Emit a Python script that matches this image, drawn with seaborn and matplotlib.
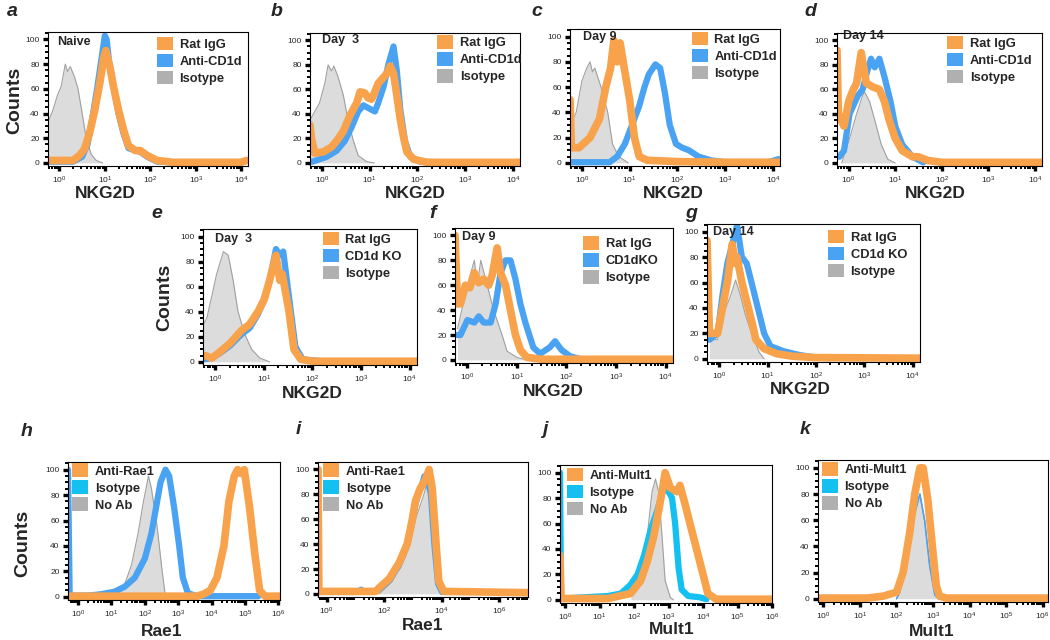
import numpy as np
import matplotlib
matplotlib.use("Agg")
import matplotlib.pyplot as plt
import seaborn as sns
from matplotlib.patches import Patch
from matplotlib.ticker import MultipleLocator, FixedLocator, NullFormatter

sns.set_style("ticks")
plt.rcParams['font.family'] = ['Liberation Sans', 'DejaVu Sans']

# ---- data: x in log10 decades, y in counts ----
a_iso_x = [-0.25, -0.15, -0.04, 0.04, 0.13, 0.18, 0.24, 0.33, 0.41, 0.48, 0.59, 0.7, 0.81, 0.95]
a_iso_y = [33, 42, 55, 62, 80, 74, 78, 70, 60, 45, 20, 7, 2, 0]
a_rat_x = [-0.25, 0.0, 0.3, 0.44, 0.55, 0.67, 0.78, 0.89, 0.98, 1.02, 1.11, 1.19, 1.3, 1.41, 1.52, 1.67, 1.78, 1.93, 2.15, 2.5, 3.5, 4.0, 4.12]
a_rat_y = [2, 2, 2, 6, 11, 25, 43, 65, 86, 91, 78, 62, 43, 27, 14, 10, 10, 6, 2, 0.5, 0.5, 0.5, 2]
a_cd1d_x = [-0.25, 0.3, 0.5, 0.62, 0.72, 0.83, 0.93, 1.0, 1.04, 1.1, 1.2, 1.3, 1.41, 1.52, 1.67, 1.78, 1.93, 2.15, 2.5]
a_cd1d_y = [1, 1, 5, 15, 35, 60, 85, 103, 100, 80, 60, 40, 24, 12, 10, 9, 5, 1, 0.5]

b_iso_x = [-0.25, -0.05, 0.06, 0.13, 0.2, 0.25, 0.34, 0.45, 0.55, 0.66, 0.76, 0.94, 1.1]
b_iso_y = [35, 49, 65, 80, 75, 79, 70, 55, 34, 18, 6, 1, 0]
b_rat_x = [-0.25, -0.22, -0.15, 0.03, 0.2, 0.31, 0.45, 0.59, 0.73, 0.8, 0.9, 0.97, 1.04, 1.11, 1.18, 1.25, 1.36, 1.43, 1.5, 1.57, 1.64, 1.71, 1.78, 1.92, 2.2, 4.15]
b_rat_y = [31, 20, 8, 9, 13, 18, 26, 39, 49, 58, 57, 53, 52, 58, 65, 68, 73, 79, 73, 55, 36, 21, 9, 3, 0.5, 0.5]
b_cd1d_x = [-0.25, -0.2, 0.1, 0.31, 0.48, 0.62, 0.76, 0.87, 1.01, 1.11, 1.18, 1.29, 1.39, 1.5, 1.57, 1.64, 1.74, 1.85, 2.06, 2.5]
b_cd1d_y = [1, 1, 5, 10, 18, 29, 42, 47, 44, 42, 49, 62, 80, 95, 75, 44, 18, 5, 1, 0.5]

c_iso_x = [-0.25, -0.12, 0.0, 0.1, 0.17, 0.22, 0.27, 0.4, 0.54, 0.64, 0.77, 0.97]
c_iso_y = [30, 40, 65, 75, 80, 72, 75, 60, 40, 15, 5, 0]
c_rat_x = [-0.25, -0.22, -0.06, 0.17, 0.37, 0.5, 0.6, 0.67, 0.74, 0.8, 0.9, 1.0, 1.1, 1.2, 1.37, 2.0, 3.0, 4.15]
c_rat_y = [50, 12, 12, 20, 35, 60, 75, 97, 80, 95, 72, 50, 20, 5, 2, 1, 0.5, 0.5]
c_cd1d_x = [-0.25, 0.58, 0.74, 0.9, 1.1, 1.2, 1.31, 1.4, 1.54, 1.64, 1.74, 1.84, 1.97, 2.1, 2.24, 2.44, 2.7, 3.0, 3.9, 4.12]
c_cd1d_y = [0.5, 0.5, 5, 15, 35, 45, 60, 70, 78, 75, 55, 30, 15, 12, 10, 5, 2, 0.5, 0.5, 3]

d_iso_x = [-0.15, 0.02, 0.17, 0.3, 0.34, 0.45, 0.56, 0.7, 0.84, 1.0]
d_iso_y = [0, 20, 40, 55, 58, 50, 35, 15, 3, 0]
d_rat_x = [-0.25, -0.22, -0.1, 0.0, 0.1, 0.17, 0.27, 0.38, 0.52, 0.66, 0.77, 0.87, 1.0, 1.15, 1.37, 1.5, 1.7, 2.0, 4.15]
d_rat_y = [92, 40, 30, 50, 60, 65, 90, 65, 62, 60, 50, 35, 20, 10, 5, 5, 2, 0.5, 0.5]
d_cd1d_x = [-0.2, -0.1, 0.02, 0.2, 0.3, 0.4, 0.48, 0.56, 0.66, 0.77, 0.9, 1.0, 1.15, 1.37, 1.6]
d_cd1d_y = [5, 10, 40, 55, 60, 75, 85, 78, 85, 70, 50, 30, 15, 5, 0.5]

e_iso_x = [-0.24, -0.17, 0.03, 0.17, 0.27, 0.37, 0.47, 0.61, 0.75, 0.92, 1.12]
e_iso_y = [30, 35, 70, 88, 85, 65, 40, 22, 10, 3, 0]
e_rat_x = [-0.24, -0.2, -0.07, 0.1, 0.31, 0.54, 0.71, 0.88, 1.01, 1.12, 1.25, 1.33, 1.38, 1.52, 1.62, 1.76, 2.0, 4.15]
e_rat_y = [5, 5, 3, 8, 15, 25, 30, 40, 50, 65, 85, 65, 70, 40, 10, 2, 0.5, 0.5]
e_ko_x = [-0.24, -0.07, 0.1, 0.31, 0.54, 0.71, 0.88, 1.01, 1.12, 1.25, 1.33, 1.4, 1.54, 1.65, 1.8, 2.2]
e_ko_y = [2, 3, 7, 13, 22, 27, 38, 50, 65, 90, 85, 88, 45, 12, 2, 0.5]

f_iso_x = [-0.2, 0.0, 0.14, 0.2, 0.27, 0.4, 0.53, 0.7, 0.8, 1.0, 1.2]
f_iso_y = [25, 60, 80, 60, 80, 60, 40, 20, 7, 2, 0]
f_rat_x = [-0.25, -0.2, -0.14, -0.04, 0.05, 0.14, 0.23, 0.33, 0.43, 0.5, 0.6, 0.67, 0.77, 0.87, 0.97, 1.07, 1.2, 1.5, 4.15]
f_rat_y = [100, 45, 45, 60, 58, 70, 62, 65, 60, 68, 90, 70, 60, 40, 20, 8, 2, 0.5, 0.5]
f_ko_x = [-0.2, -0.14, 0.0, 0.14, 0.23, 0.33, 0.47, 0.57, 0.67, 0.77, 0.87, 0.97, 1.07, 1.17, 1.33, 1.47, 1.66, 1.77, 1.9, 2.07, 2.3]
f_ko_y = [20, 20, 32, 30, 35, 30, 30, 45, 70, 80, 80, 65, 45, 30, 10, 5, 10, 15, 8, 3, 0.5]

g_iso_x = [-0.2, -0.03, 0.07, 0.14, 0.24, 0.34, 0.44, 0.54, 0.67, 0.83, 0.93]
g_iso_y = [15, 15, 45, 40, 50, 62, 50, 35, 20, 5, 0]
g_rat_x = [-0.25, -0.2, -0.03, 0.07, 0.17, 0.24, 0.27, 0.34, 0.37, 0.47, 0.57, 0.67, 0.76, 0.93, 1.19, 1.52, 1.99, 4.15]
g_rat_y = [93, 20, 20, 40, 60, 80, 90, 75, 80, 60, 45, 30, 15, 8, 4, 2, 1, 0.5]
g_ko_x = [-0.2, -0.03, 0.07, 0.17, 0.27, 0.37, 0.47, 0.57, 0.67, 0.8, 0.93, 1.06, 1.33, 1.66, 1.99, 2.3]
g_ko_y = [15, 20, 50, 75, 90, 105, 80, 75, 60, 40, 20, 10, 6, 3, 1, 0.5]

h_noab_x = [1.09, 1.4, 1.6, 1.8, 1.96, 2.11, 2.2, 2.37, 2.52, 2.62]
h_noab_y = [2, 10, 25, 50, 75, 95, 85, 55, 20, 0]
h_iso_x = [-0.3, -0.25, 0.3, 0.68, 1.09, 1.4, 1.7, 2.0, 2.2, 2.37, 2.47, 2.62, 2.73, 2.88, 3.03, 3.14, 3.29, 3.55, 5.4]
h_iso_y = [100, 1, 1, 2, 4, 8, 15, 30, 50, 75, 90, 100, 95, 70, 40, 15, 3, 0.5, 0.5]
h_rae_x = [-0.3, 3.55, 3.75, 3.96, 4.16, 4.37, 4.52, 4.68, 4.78, 4.88, 4.98, 5.14, 5.29, 5.44, 5.6, 6.05]
h_rae_y = [0.5, 0.5, 2, 5, 15, 40, 75, 95, 100, 97, 100, 70, 35, 5, 0.5, 0.5]

i_noab_x = [1.83, 2.29, 2.75, 3.09, 3.38, 3.5, 3.67, 3.84, 4.02]
i_noab_y = [0, 10, 30, 60, 80, 90, 60, 10, 0]
i_iso_x = [-0.3, 1.0, 1.2, 1.4, 1.83, 2.17, 2.52, 2.8, 2.98, 3.09, 3.26, 3.38, 3.5, 3.6, 3.72, 3.85, 4.0]
i_iso_y = [1, 1, 4, 1, 3, 10, 22, 38, 55, 70, 85, 95, 90, 80, 40, 8, 1]
i_rae_x = [-0.3, -0.27, 0.5, 1.71, 1.83, 2.17, 2.52, 2.8, 2.98, 3.09, 3.26, 3.44, 3.56, 3.67, 3.79, 3.9, 4.07, 7.0]
i_rae_y = [100, 2, 2, 2, 5, 12, 25, 40, 60, 75, 85, 92, 100, 85, 45, 10, 2, 1]

j_noab_x = [1.9, 2.19, 2.38, 2.52, 2.62, 2.71, 2.81, 2.9, 3.05, 3.14]
j_noab_y = [5, 25, 50, 85, 95, 85, 50, 15, 2, 0]
j_iso_x = [-0.15, -0.12, 0.57, 1.24, 1.62, 1.9, 2.1, 2.29, 2.48, 2.67, 2.86, 3.0, 3.1, 3.19, 3.29, 3.38, 3.57, 3.9, 4.1]
j_iso_y = [100, 1, 2, 3, 5, 12, 20, 35, 55, 70, 88, 85, 80, 60, 25, 8, 3, 2, 0.5]
j_mult_x = [-0.15, -0.12, 1.24, 1.9, 2.19, 2.38, 2.57, 2.71, 2.81, 2.9, 3.05, 3.24, 3.33, 3.48, 3.62, 3.81, 4.0, 4.14, 4.38, 6.0]
j_mult_y = [35, 1, 1, 5, 15, 30, 50, 70, 85, 100, 88, 85, 90, 75, 60, 40, 20, 5, 0.5, 0.5]

k_noab_x = [2.0, 2.09, 2.27, 2.45, 2.64, 2.77, 2.91, 3.05, 3.15]
k_noab_y = [0, 5, 30, 60, 80, 60, 25, 3, 0]
k_mult_x = [-0.15, 1.2, 1.64, 2.0, 2.18, 2.36, 2.5, 2.64, 2.73, 2.86, 3.0, 3.09, 3.18, 3.36, 6.15]
k_mult_y = [0.5, 0.5, 2, 5, 20, 50, 80, 100, 100, 75, 35, 10, 2, 0.5, 0.5]

ORANGE = '#F9A24C'
BLUE = '#4AA3F2'
CYAN = '#14C0F0'
GRAY_FILL = '#DCDCDC'
GRAY_EDGE = '#A0A0A0'
GRAY_LEG = '#B0B0B0'

W, H = 1050, 640
fig = plt.figure(figsize=(W / 100, H / 100), dpi=100)


def draw_panel(box, xlim, gray, curves, labels, leg_colors, leg_xy,
               letter, letter_xy, xlabel, xlabel_xy, note=None, note_xy=None,
               counts_xy=None, xticks=None):
    left, top, right, bottom = box
    ax = fig.add_axes([left / W, 1 - bottom / H, (right - left) / W, (bottom - top) / H])
    gx = 10 ** np.array(gray[0])
    ax.fill_between(gx, gray[1], color=GRAY_FILL, lw=0)
    sns.lineplot(x=gx, y=gray[1], ax=ax, color=GRAY_EDGE, lw=0.8,
                 estimator=None, sort=False)
    for (xs, ys), color, lw in curves:
        sns.lineplot(x=10 ** np.array(xs), y=ys, ax=ax, color=color, lw=lw,
                     estimator=None, sort=False, solid_joinstyle='round',
                     solid_capstyle='round')
    ax.set_xscale('log')
    ax.set_xlim(10 ** xlim[0], 10 ** xlim[1])
    ax.set_ylim(-2.5, 106)
    ax.yaxis.set_major_locator(MultipleLocator(20))
    ax.yaxis.set_minor_locator(MultipleLocator(5))
    if xticks is not None:
        ax.xaxis.set_major_locator(FixedLocator([10.0 ** t for t in xticks]))
    ax.xaxis.set_minor_formatter(NullFormatter())
    ax.tick_params(which='major', length=3.5, width=2.4, labelsize=6, pad=2.5, color='black')
    ax.tick_params(which='minor', length=2, width=1.4, color='black')
    for sp in ax.spines.values():
        sp.set_linewidth(0.8)
        sp.set_color('black')

    ax.set_ylabel('')
    ax.set_xlabel(xlabel, fontsize=12.5, fontweight='bold', va='center')
    ax.xaxis.set_label_coords((xlabel_xy[0] - left) / (right - left),
                              (bottom - xlabel_xy[1]) / (bottom - top))
    if counts_xy is not None:
        ax.set_ylabel('Counts', fontsize=14, fontweight='bold', va='center')
        ax.yaxis.set_label_coords((counts_xy[0] - left) / (right - left),
                                  (bottom - counts_xy[1]) / (bottom - top))

    handles = [Patch(facecolor=c, edgecolor='none') for c in leg_colors]
    ax.legend(handles, labels, loc='upper left', bbox_to_anchor=leg_xy,
              frameon=False, borderpad=0, borderaxespad=0, handlelength=1.25,
              handleheight=1.25, handletextpad=0.5, labelspacing=0.22,
              prop={'weight': 'bold', 'size': 9.3})
    if note:
        ax.text(note_xy[0], note_xy[1], note, transform=ax.transAxes,
                fontsize=9, fontweight='bold', ha='left', va='center')
    fig.text(letter_xy[0] / W, 1 - letter_xy[1] / H, letter, fontsize=14,
             fontweight='bold', style='italic', ha='center', va='center')
    return ax


nk_lim = (-0.25, 4.15)
lab_cd1d = ['Rat IgG', 'Anti-CD1d', 'Isotype']
col_top = [ORANGE, BLUE, GRAY_LEG]

draw_panel((48, 32, 248, 166), nk_lim, (a_iso_x, a_iso_y),
           [((a_cd1d_x, a_cd1d_y), BLUE, 4.5), ((a_rat_x, a_rat_y), ORANGE, 5.5)],
           lab_cd1d, col_top, (0.545, 0.965), 'a', (12, 12), 'NKG2D', (105, 194),
           'Naive', (0.045, 0.925), counts_xy=(15, 100))
draw_panel((310, 33, 520, 166), nk_lim, (b_iso_x, b_iso_y),
           [((b_cd1d_x, b_cd1d_y), BLUE, 4.5), ((b_rat_x, b_rat_y), ORANGE, 5.5)],
           lab_cd1d, col_top, (0.605, 0.985), 'b', (277, 12), 'NKG2D', (415, 194),
           'Day  3', (0.057, 0.95))
draw_panel((570, 29, 780, 166), nk_lim, (c_iso_x, c_iso_y),
           [((c_cd1d_x, c_cd1d_y), BLUE, 4.5), ((c_rat_x, c_rat_y), ORANGE, 5.5)],
           lab_cd1d, col_top, (0.58, 0.98), 'c', (537, 12), 'NKG2D', (673, 193),
           'Day 9', (0.062, 0.94))
draw_panel((837, 33, 1042, 166), nk_lim, (d_iso_x, d_iso_y),
           [((d_cd1d_x, d_cd1d_y), BLUE, 4.5), ((d_rat_x, d_rat_y), ORANGE, 5.5)],
           lab_cd1d, col_top, (0.537, 0.98), 'd', (810, 12), 'NKG2D', (935, 194),
           'Day 14', (0.03, 0.975))

draw_panel((203, 229, 417, 365), nk_lim, (e_iso_x, e_iso_y),
           [((e_ko_x, e_ko_y), BLUE, 4.5), ((e_rat_x, e_rat_y), ORANGE, 5.5)],
           ['Rat IgG', 'CD1d KO', 'Isotype'], col_top, (0.56, 0.98), 'e', (157, 214),
           'NKG2D', (312, 393), 'Day  3', (0.056, 0.93), counts_xy=(165, 297))
draw_panel((455, 228, 673, 363), nk_lim, (f_iso_x, f_iso_y),
           [((f_ko_x, f_ko_y), BLUE, 4.5), ((f_rat_x, f_rat_y), ORANGE, 5.5)],
           ['Rat IgG', 'CD1dKO', 'Isotype'], col_top, (0.587, 0.94), 'f', (433, 213),
           'NKG2D', (553, 392), 'Day 9', (0.03, 0.93))
draw_panel((707, 224, 920, 362), nk_lim, (g_iso_x, g_iso_y),
           [((g_ko_x, g_ko_y), BLUE, 4.5), ((g_rat_x, g_rat_y), ORANGE, 5.5)],
           ['Rat IgG', 'CD1d KO', 'Isotype'], col_top, (0.568, 0.96), 'g', (691, 214),
           'NKG2D', (800, 390), 'Day 14', (0.03, 0.94))

col_bot = [ORANGE, CYAN, GRAY_LEG]
draw_panel((68, 462, 280, 600), (-0.3, 6.05), (h_noab_x, h_noab_y),
           [((h_iso_x, h_iso_y), BLUE, 4.5), ((h_rae_x, h_rae_y), ORANGE, 5.5)],
           ['Anti-Rae1', 'Isotype', 'No Ab'], col_bot, (0.02, 0.99), 'h', (27, 432),
           'Rae1', (162, 631), counts_xy=(23, 543))
draw_panel((318, 462, 528, 597), (-0.3, 7.0), (i_noab_x, i_noab_y),
           [((i_iso_x, i_iso_y), BLUE, 3.5), ((i_rae_x, i_rae_y), ORANGE, 5.5)],
           ['Anti-Rae1', 'Isotype', 'No Ab'], col_bot, (0.024, 0.99), 'i', (298, 430),
           'Rae1', (423, 625), xticks=[0, 2, 4, 6])
draw_panel((560, 465, 772, 603), (-0.15, 6.0), (j_noab_x, j_noab_y),
           [((j_iso_x, j_iso_y), CYAN, 4.5), ((j_mult_x, j_mult_y), ORANGE, 5.5)],
           ['Anti-Mult1', 'Isotype', 'No Ab'], col_bot, (0.033, 0.98), 'j', (545, 430),
           'Mult1', (672, 630))
draw_panel((818, 460, 1048, 602), (-0.15, 6.15), (k_noab_x, k_noab_y),
           [((k_noab_x, k_noab_y), BLUE, 1.2), ((k_mult_x, k_mult_y), ORANGE, 5.5)],
           ['Anti-Mult1', 'Isotype', 'No Ab'], col_bot, (0.017, 0.985), 'k', (805, 430),
           'Mult1', (932, 631))

fig.savefig('out.png', dpi=100)
